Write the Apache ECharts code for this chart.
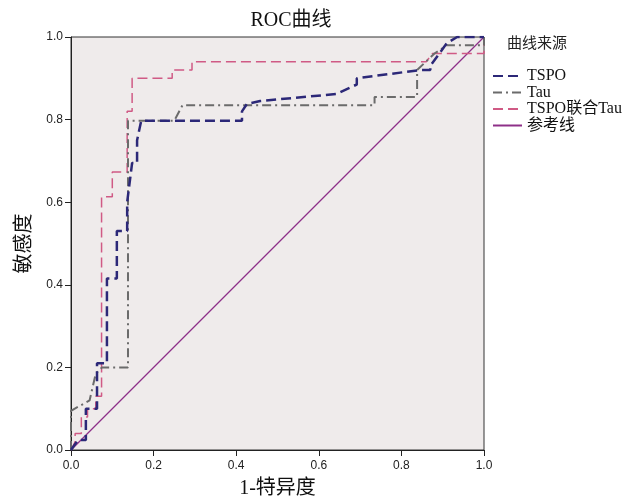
<!DOCTYPE html>
<html><head><meta charset="utf-8">
<script src="https://cdn.jsdelivr.net/npm/echarts@6/dist/echarts.min.js"></script>
<style>html,body{margin:0;padding:0;background:#fff}#c{width:623px;height:497px}</style>
</head><body><div id="c"></div>
<script>
var seriesNames = ['TSPO', 'Tau', 'TSPO联合Tau', '参考线'];
var tickValues = [0, 0.2, 0.4, 0.6, 0.8, 1.0];
var tspo = [[0,0],[0.017,0.024],[0.036,0.024],[0.036,0.10],[0.063,0.10],[0.063,0.21],[0.087,0.21],[0.087,0.415],[0.111,0.415],[0.111,0.53],[0.136,0.53],[0.136,0.6],[0.148,0.695],[0.16,0.695],[0.16,0.75],[0.17,0.797],[0.414,0.797],[0.414,0.82],[0.426,0.838],[0.458,0.845],[0.642,0.862],[0.692,0.885],[0.692,0.9],[0.845,0.92],[0.87,0.92],[0.87,0.93],[0.91,0.985],[0.935,1.0],[1,1]];
var tau = [[0,0],[0,0.095],[0.045,0.12],[0.06,0.185],[0.075,0.2],[0.138,0.2],[0.138,0.797],[0.25,0.797],[0.27,0.835],[0.735,0.835],[0.735,0.855],[0.838,0.855],[0.838,0.92],[0.88,0.96],[0.91,0.98],[1,0.98],[1,1]];
var combo = [[0,0],[0.01,0.02],[0.01,0.04],[0.025,0.04],[0.025,0.08],[0.04,0.08],[0.04,0.1],[0.06,0.1],[0.06,0.13],[0.074,0.13],[0.074,0.613],[0.1,0.613],[0.1,0.673],[0.136,0.673],[0.136,0.82],[0.148,0.82],[0.148,0.9],[0.245,0.9],[0.245,0.92],[0.293,0.92],[0.293,0.94],[0.86,0.94],[0.875,0.96],[1,0.96],[1,1]];
var reference = [[0,0],[1,1]];

var chart = echarts.init(document.getElementById('c'), null, {renderer:'canvas'});
var serif = "'Liberation Serif','Noto Sans CJK SC',serif";
var sans = "'Liberation Sans','Noto Sans CJK SC',sans-serif";
function axis(name){
  return {
    type:'value', min:0, max:1, interval:0.2,
    name:name, nameLocation:'middle',
    nameTextStyle:{fontFamily:serif, fontSize:20, color:'#111'},
    axisLine:{show:true, lineStyle:{color:'#222', width:1}},
    axisTick:{show:true, length:6, lineStyle:{color:'#222'}},
    axisLabel:{fontFamily:sans, fontSize:12, color:'#222', formatter:function(v){return v.toFixed(1);}},
    splitLine:{show:false}
  };
}
var xa = axis('1-特异度'); xa.nameGap = 29; xa.axisLabel.margin = 10;
var ya = axis('敏感度'); ya.nameGap = 36; ya.nameRotate = 90; ya.axisLabel.margin = 8;
chart.setOption({
  animation:false,
  backgroundColor:'#fff',
  grid:{left:71, right:139, top:37, bottom:47, outerBoundsMode:'none', containLabel:false, show:true, backgroundColor:'#efebeb', borderColor:'#333', borderWidth:1},
  xAxis:xa, yAxis:ya,
  title:{text:'ROC曲线', left:286, top:6, textAlign:'center', textStyle:{fontFamily:serif, fontSize:20, fontWeight:'normal', color:'#111'}},
  graphic:[{type:'text', left:507, top:35, style:{text:'曲线来源', font:"15px 'Noto Sans CJK SC',sans-serif", fill:'#222'}}],
  legend:{orient:'vertical', left:492, top:68, padding:0, itemWidth:29, itemHeight:10, itemGap:0.5,
    itemStyle:{opacity:0},
    textStyle:{fontFamily:serif, fontSize:16, lineHeight:16, color:'#111'}, data:seriesNames},
  series:[
    {name:seriesNames[0], type:'line', data:tspo, symbol:'none', z:4, lineStyle:{color:'#2c2878', width:2.5, type:[10,5]}, itemStyle:{color:'#2c2878'}},
    {name:seriesNames[1], type:'line', data:tau, symbol:'none', z:3, lineStyle:{color:'#6b6b6b', width:2, type:[9,4,2,4]}, itemStyle:{color:'#6b6b6b'}},
    {name:seriesNames[2], type:'line', data:combo, symbol:'none', z:2, lineStyle:{color:'#d05a85', width:1.5, type:[10,5]}, itemStyle:{color:'#d05a85'}},
    {name:seriesNames[3], type:'line', data:reference, symbol:'none', z:1, lineStyle:{color:'#8e3088', width:1.3, type:'solid'}, itemStyle:{color:'#8e3088'}}
  ]
});
</script></body></html>
